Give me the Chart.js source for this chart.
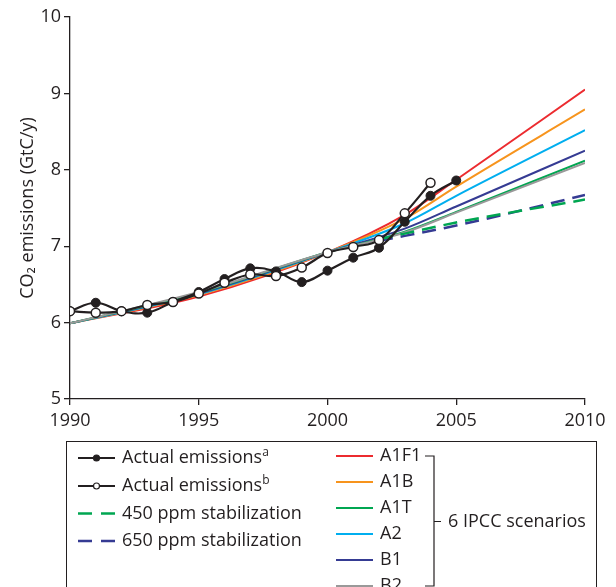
<!DOCTYPE html>
<html>
<head>
<meta charset="utf-8">
<script src="https://cdn.jsdelivr.net/npm/chart.js@4.4.1/dist/chart.umd.min.js"></script>
<style>
  html, body { margin: 0; padding: 0; background: #fff; overflow: hidden; }
  #wrap { position: relative; width: 616px; height: 587px; overflow: hidden; }
  #c { position: absolute; left: 0; top: 0; }
  #legendBox { position: absolute; left: 66px; top: 441px; width: 531px; height: 170px; border: 1px solid #231f20; box-sizing: border-box; }
  #legendSvg { position: absolute; left: 0; top: 0; }
  .lg { position: absolute; font-family: "Open Sans", sans-serif; font-size: 18px; color: #231f20; line-height: 20px; white-space: nowrap; }
  .lg sup { font-size: 12px; vertical-align: 7px; line-height: 0; }
</style>
</head>
<body>
<div id="wrap">
  <canvas id="c" width="616" height="587"></canvas>
  <div id="legendBox"></div>
  <svg id="legendSvg" width="616" height="587"></svg>
  <div id="legendText"></div>
</div>
<script>
// ——— Data ———
var actualYearsA = [1990, 1991, 1992, 1993, 1994, 1995, 1996, 1997, 1998, 1999, 2000, 2001, 2002, 2003, 2004, 2005];
var actualA = [6.15, 6.26, 6.15, 6.13, 6.27, 6.40, 6.57, 6.71, 6.67, 6.53, 6.68, 6.85, 6.98, 7.32, 7.66, 7.86];
var actualYearsB = [1990, 1991, 1992, 1993, 1994, 1995, 1996, 1997, 1998, 1999, 2000, 2001, 2002, 2003, 2004];
var actualB = [6.15, 6.13, 6.15, 6.23, 6.27, 6.38, 6.52, 6.63, 6.61, 6.72, 6.91, 6.99, 7.08, 7.43, 7.83];

var scenarioYears = [1990, 1995, 2000, 2003, 2005, 2010];
var a1f1 = [5.99, 6.34, 6.92, 7.41, 7.87, 9.05];
var a1b  = [5.99, 6.36, 6.92, 7.36, 7.78, 8.79];
var a1t  = [5.99, 6.39, 6.92, 7.19, 7.45, 8.12];
var a2   = [5.99, 6.37, 6.92, 7.30, 7.66, 8.52];
var b1   = [5.99, 6.38, 6.92, 7.23, 7.52, 8.25];
var b2   = [5.99, 6.40, 6.92, 7.18, 7.44, 8.09];

var stabYears = [2002, 2005, 2010];
var ppm450 = [7.09, 7.31, 7.61];
var ppm650 = [7.07, 7.27, 7.67];

var yearTicks = [1990, 1995, 2000, 2005, 2010];
var valueTicks = [5, 6, 7, 8, 9, 10];

var INK = "#231f20";
var FONT = "'Open Sans', sans-serif";

function pts(xs, ys) {
  return xs.map(function (x, i) { return { x: x, y: ys[i] }; });
}

var scenarios = [
  { label: "A1F1", data: a1f1, color: "#ec2b2f" },
  { label: "A1B",  data: a1b,  color: "#f7941d" },
  { label: "A1T",  data: a1t,  color: "#00a651" },
  { label: "A2",   data: a2,   color: "#00aeef" },
  { label: "B1",   data: b1,   color: "#353b93" },
  { label: "B2",   data: b2,   color: "#999999" }
];

var datasets = [
  {
    label: "Actual emissions b",
    data: pts(actualYearsB, actualB),
    borderColor: INK, backgroundColor: "#fff",
    borderWidth: 2.2, pointRadius: 4.5, pointBorderWidth: 1.5,
    pointBackgroundColor: "#fff", pointBorderColor: INK, tension: 0.4
  },
  {
    label: "Actual emissions a",
    data: pts(actualYearsA, actualA),
    borderColor: INK, backgroundColor: INK,
    borderWidth: 2.2, pointRadius: 4.5, pointBorderWidth: 1,
    pointBackgroundColor: INK, pointBorderColor: INK, tension: 0.4
  },
  {
    label: "450 ppm stabilization",
    data: pts(stabYears, ppm450),
    borderColor: "#00a651", borderWidth: 2.5, borderDash: [14, 8],
    pointRadius: 0, cubicInterpolationMode: "monotone"
  },
  {
    label: "650 ppm stabilization",
    data: pts(stabYears, ppm650),
    borderColor: "#353b93", borderWidth: 2.5, borderDash: [14, 8],
    pointRadius: 0, cubicInterpolationMode: "monotone"
  }
];
// gray on top of the bundle, red at the bottom
[5, 2, 4, 3, 1, 0].forEach(function (i) {
  var s = scenarios[i];
  datasets.push({
    label: s.label,
    data: pts(scenarioYears, s.data),
    borderColor: s.color, borderWidth: 2,
    pointRadius: 0, cubicInterpolationMode: "monotone"
  });
});

new Chart(document.getElementById("c"), {
  type: "line",
  data: { datasets: datasets },
  options: {
    responsive: false,
    animation: false,
    layout: { padding: { left: 0, top: 17, right: 31, bottom: 148 } },
    plugins: { legend: { display: false }, tooltip: { enabled: false } },
    scales: {
      x: {
        type: "linear", min: 1990, max: 2010,
        afterBuildTicks: function (scale) { scale.ticks = yearTicks.map(function (v) { return { value: v }; }); },
        afterFit: function (scale) { scale.height = 40; },
        ticks: { color: INK, font: { family: FONT, size: 18 }, padding: 5, maxRotation: 0,
                 callback: function (v) { return String(v); } },
        grid: { drawOnChartArea: false, drawTicks: true, tickLength: 6, color: INK, lineWidth: 1.3 },
        border: { color: INK, width: 1.3 }
      },
      y: {
        min: 5, max: 10,
        afterBuildTicks: function (scale) { scale.ticks = valueTicks.map(function (v) { return { value: v }; }); },
        afterFit: function (scale) { scale.width = 70; },
        ticks: { color: INK, font: { family: FONT, size: 18 }, padding: 3 },
        grid: { drawOnChartArea: false, drawTicks: true, tickLength: 6, color: INK, lineWidth: 1.3 },
        border: { color: INK, width: 1.3 },
        title: { display: true, text: "CO\u2082 emissions (GtC/y)", color: INK,
                 font: { family: FONT, size: 18, lineHeight: 1.2 }, padding: { top: 17, bottom: 4 } }
      }
    }
  }
});

// ——— Legend (HTML text + SVG samples) ———
var leftRows = [
  { html: "Actual emissions<sup>a</sup>", y: 458, color: INK, marker: "filled" },
  { html: "Actual emissions<sup>b</sup>", y: 486, color: INK, marker: "open" },
  { html: "450 ppm stabilization", y: 513.5, color: "#00a651", dash: true },
  { html: "650 ppm stabilization", y: 541, color: "#353b93", dash: true }
];
var rightRowY = [456, 482, 508, 534, 560, 586];

var svg = "";
var textHtml = "";
leftRows.forEach(function (r) {
  if (r.dash) {
    svg += '<line x1="78" y1="' + r.y + '" x2="115" y2="' + r.y + '" stroke="' + r.color + '" stroke-width="2.5" stroke-dasharray="14 9"/>';
  } else {
    svg += '<line x1="78" y1="' + r.y + '" x2="115" y2="' + r.y + '" stroke="' + r.color + '" stroke-width="2"/>';
    svg += '<circle cx="96.5" cy="' + r.y + '" r="3" fill="' + (r.marker === "open" ? "#fff" : INK) + '" stroke="' + INK + '" stroke-width="1.2"/>';
  }
  textHtml += '<div class="lg" style="left:122px;top:' + (r.y - 12) + 'px">' + r.html + '</div>';
});
scenarios.forEach(function (s, i) {
  var y = rightRowY[i];
  svg += '<line x1="336" y1="' + y + '" x2="373" y2="' + y + '" stroke="' + s.color + '" stroke-width="2"/>';
  textHtml += '<div class="lg" style="left:380px;top:' + (y - 12) + 'px">' + s.label + '</div>';
});
// bracket grouping the six scenarios
var bTop = rightRowY[0], bBot = rightRowY[rightRowY.length - 1], bMid = 521.5;
svg += '<path d="M425 ' + bTop + ' H434 V' + bBot + ' H425 M434 ' + bMid + ' H441" fill="none" stroke="' + INK + '" stroke-width="1.2"/>';
textHtml += '<div class="lg" style="left:448px;top:' + (bMid - 12) + 'px">6 IPCC scenarios</div>';

document.getElementById("legendSvg").innerHTML = svg;
document.getElementById("legendText").innerHTML = textHtml;
</script>
</body>
</html>
